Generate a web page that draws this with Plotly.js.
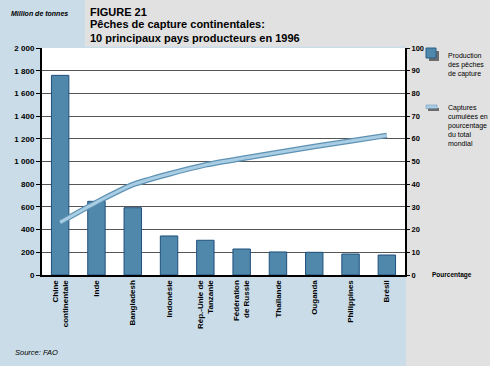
<!DOCTYPE html>
<html><head><meta charset="utf-8">
<script src="https://cdn.plot.ly/plotly-3.0.1.min.js"></script>
<style>html,body{margin:0;padding:0;}#c{width:490px;height:366px;}</style>
</head><body><div id="c"></div>
<script>
const countries = ["Chine<br>continentale","Inde","Bangladesh","Indonésie","Rép.-Unie de<br>Tanzanie","Fédération<br>de Russie","Thaïlande","Ouganda","Philippines","Brésil"];
const production = [1759, 649, 593, 344, 306, 229, 203, 200, 185, 176];
const cumulPct = [23.2, 32, 39.8, 44.5, 48.5, 51.3, 54, 56.6, 59, 61.5];

const F = "Liberation Sans Narrow, Arial Narrow, Liberation Sans, sans-serif";
const blue = "#c9dce8", gray = "#e1e1e1";

const traces = [
 {type:"bar", x:countries, y:production, marker:{color:"#4f88aa", line:{color:"#1f4f7c", width:1}}, hoverinfo:"none"},
 {type:"scatter", mode:"lines", x:countries, y:cumulPct, yaxis:"y2", line:{color:"#5e92b4", width:5.5, shape:"spline", smoothing:0.6}, hoverinfo:"none"},
 {type:"scatter", mode:"lines", x:countries, y:cumulPct, yaxis:"y2", line:{color:"#a9cde3", width:3, shape:"spline", smoothing:0.6}, hoverinfo:"none"}
];

const L=42, R=85, T=48, B=91, W=490-L-R, H=366-T-B;
const px = v => (v-L)/W, py = v => (366-B-v)/H;

const layout = {
 width:490, height:366, margin:{l:L, r:R, t:T, b:B},
 paper_bgcolor: blue, plot_bgcolor:"#ffffff", showlegend:false,
 separators:", ", bargap:0.52,
 font:{family:F, size:9, color:"#000"},
 xaxis:{type:"category", tickangle:-90, showline:true, linecolor:"#000", linewidth:2, ticks:"", tickfont:{family:F, size:8, color:"#000", weight:"bold"}, automargin:false},
 yaxis:{range:[0,2000], dtick:200, showline:true, linecolor:"#000", linewidth:2, ticks:"outside", ticklen:4, tickcolor:"#000", separatethousands:true, showgrid:true, gridcolor:"#555", gridwidth:1, zeroline:false, tickfont:{family:F, size:8, weight:"bold"}, automargin:false},
 yaxis2:{range:[0,100], dtick:10, overlaying:"y", side:"right", showline:true, linecolor:"#000", linewidth:2, ticks:"outside", ticklen:3, tickcolor:"#000", showgrid:false, zeroline:false, tickfont:{family:F, size:7.5, weight:"bold"}, automargin:false},
 shapes:[
  {type:"rect", xref:"paper", yref:"paper", x0:px(85), x1:px(495), y0:py(46.5), y1:py(-5), fillcolor:gray, line:{width:0}, layer:"below"},
  {type:"rect", xref:"paper", yref:"paper", x0:px(406), x1:px(495), y0:py(370), y1:py(-5), fillcolor:gray, line:{width:0}, layer:"below"},
  {type:"rect", xref:"paper", yref:"paper", x0:px(429), x1:px(439), y0:py(61), y1:py(51), fillcolor:"#6b6b6b", line:{width:0}},
  {type:"rect", xref:"paper", yref:"paper", x0:px(426), x1:px(436), y0:py(58), y1:py(48), fillcolor:"#4f88aa", line:{color:"#2a5f8a", width:1}},
  {type:"rect", xref:"paper", yref:"paper", x0:px(428), x1:px(439), y0:py(111), y1:py(108), fillcolor:"#6b6b6b", line:{width:0}},
  {type:"rect", xref:"paper", yref:"paper", x0:px(426), x1:px(437), y0:py(108.5), y1:py(105), fillcolor:"#a9cde3", line:{color:"#5e92b4", width:0.5}}
 ],
 annotations:[
  {xref:"paper", yref:"paper", x:px(9), y:py(14), xanchor:"left", yanchor:"middle", showarrow:false, text:"<b><i>Million de tonnes</i></b>", font:{family:F, size:7}},
  {xref:"paper", yref:"paper", x:px(88), y:py(12), xanchor:"left", yanchor:"middle", showarrow:false, text:"<b>FIGURE 21</b>", font:{family:F, size:11}},
  {xref:"paper", yref:"paper", x:px(88), y:py(31.5), xanchor:"left", yanchor:"middle", showarrow:false, align:"left", text:"<b>Pêches de capture continentales:<br>10 principaux pays producteurs en 1996</b>", font:{family:F, size:11}},
  {xref:"paper", yref:"paper", x:px(446), y:py(50), xanchor:"left", yanchor:"top", showarrow:false, align:"left", text:"Production<br>des pêches<br>de capture", font:{family:F, size:7}},
  {xref:"paper", yref:"paper", x:px(446), y:py(102), xanchor:"left", yanchor:"top", showarrow:false, align:"left", text:"Captures<br>cumulées en<br>pourcentage<br>du total<br>mondial", font:{family:F, size:7}},
  {xref:"paper", yref:"paper", x:px(430), y:py(275), xanchor:"left", yanchor:"middle", showarrow:false, text:"<b>Pourcentage</b>", font:{family:F, size:6.5}},
  {xref:"paper", yref:"paper", x:px(13), y:py(352), xanchor:"left", yanchor:"middle", showarrow:false, text:"<i>Source: FAO</i>", font:{family:F, size:7.5}}
 ]
};
Plotly.newPlot("c", traces, layout, {staticPlot:true});
</script></body></html>
